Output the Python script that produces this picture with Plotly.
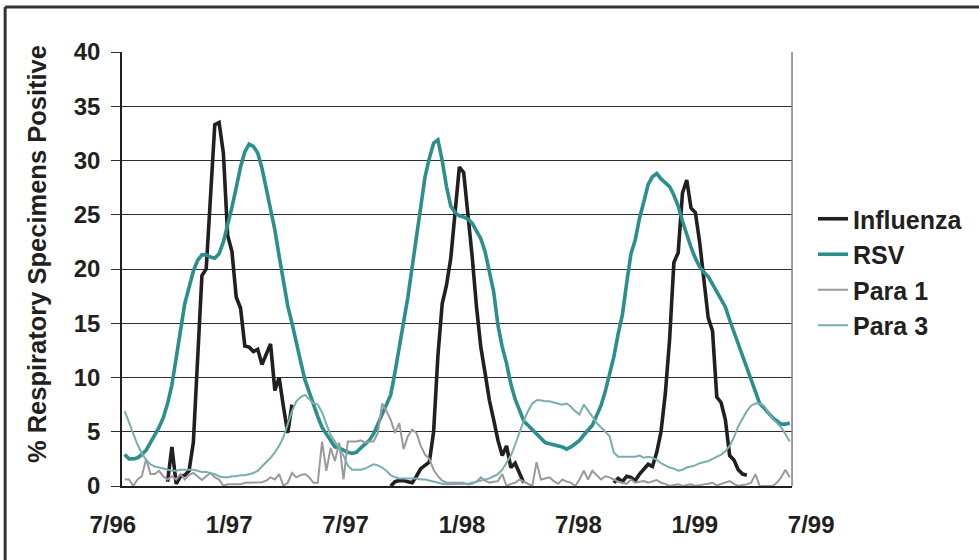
import pandas as pd
import plotly.graph_objects as go

N = 156
weeks = pd.date_range("1996-07-06", periods=N, freq="7D")

influenza = (
    [None] * 10
    + [0.4, 3.6, 0.2, 0.9, 1.0, 1.4, 4.0, 11.5, 19.4, 20.0,
       27.0, 33.3, 33.5, 30.7, 23.1, 21.6, 17.4, 16.4, 12.9, 12.8,
       12.4, 12.6, 11.2, 12.2, 13.1, 8.8, 10.0, 7.3, 4.9, 7.5]
    + [None] * 22
    + [0.0, 0.4, 0.5, 0.5, 0.4, 0.3, 0.9, 1.6, 1.9, 2.2,
       5.0, 12.0, 16.8, 18.5, 21.0, 25.0, 29.4, 28.9, 25.1, 21.1,
       16.5, 12.8, 10.4, 7.9, 6.1, 4.2, 2.8, 3.7, 1.7, 2.1,
       1.2, 0.3]
    + [None] * 20
    + [0.3, 0.7, 0.4, 0.9, 0.8, 0.5, 1.1, 1.5, 2.0, 1.8,
       3.1, 5.0, 8.5, 13.5, 20.6, 21.5, 27.0, 28.2, 25.6, 25.2,
       22.5, 19.0, 15.5, 14.3, 8.2, 7.7, 6.1, 2.8, 2.4, 1.5,
       1.1, 1.0]
    + [None] * 10
)

rsv = [
    2.9, 2.5, 2.5, 2.6, 2.9, 3.3, 4.0, 4.7, 5.4, 6.3,
    7.6, 9.3, 11.6, 14.3, 16.8, 18.3, 19.8, 20.8, 21.3, 21.3,
    21.1, 21.0, 21.4, 22.5, 24.0, 25.7, 27.5, 29.4, 30.8, 31.5,
    31.3, 30.7, 29.3, 27.5, 25.7, 23.6, 21.2, 18.8, 16.6, 15.0,
    13.4, 11.5, 9.8, 8.6, 7.4, 6.4, 5.4, 4.8, 4.2, 3.6,
    3.5, 3.3, 3.1, 3.0, 3.1, 3.5, 3.8, 4.2, 4.8, 5.7,
    6.8, 7.7, 8.4, 10.5, 13.0, 15.1, 17.4, 20.1, 23.0, 25.9,
    28.5, 30.2, 31.6, 31.9, 30.0, 27.6, 25.8, 25.2, 24.9, 24.8,
    24.6, 24.2, 23.5, 22.8, 21.6, 19.7, 17.9, 14.8, 12.8, 11.3,
    9.4, 8.0, 7.1, 6.0, 5.6, 5.2, 4.8, 4.4, 4.0, 3.9,
    3.8, 3.7, 3.6, 3.4, 3.6, 3.9, 4.2, 4.7, 5.1, 5.6,
    6.5, 7.4, 8.7, 10.2, 11.9, 14.0, 15.8, 18.7, 21.4, 22.7,
    24.7, 26.2, 27.8, 28.5, 28.8, 28.3, 28.0, 27.6, 26.8, 25.8,
    24.4, 23.1, 22.0, 21.0, 20.2, 19.7, 19.3, 18.6, 17.9, 17.1,
    16.5, 15.3, 14.2, 13.1, 12.1, 10.9, 9.8, 8.6, 7.6, 7.2,
    6.7, 6.3, 6.0, 5.7, 5.7, 5.8,
]

para1 = [
    0.6, 0.6, 0.0, 0.6, 0.9, 2.5, 1.1, 1.1, 1.4, 0.9,
    0.6, 0.9, 0.6, 1.1, 0.6, 1.0, 1.2, 0.9, 0.55, 0.9,
    1.2, 0.8, 0.6, 0.0, 0.15, 0.15, 0.15, 0.15, 0.3, 0.3,
    0.3, 0.35, 0.35, 0.5, 0.8, 0.6, 1.1, 0.0, 0.3, 1.2,
    0.8, 1.0, 1.1, 0.8, 0.3, 0.3, 4.1, 1.4, 3.5, 2.3,
    4.0, 0.6, 4.1, 4.1, 4.1, 4.2, 4.0, 4.1, 4.1, 4.9,
    7.6, 6.9, 6.1, 4.9, 5.8, 3.4, 4.6, 5.2, 4.9, 3.7,
    2.9, 2.5, 1.5, 0.9, 0.5, 0.3, 0.3, 0.3, 0.3, 0.3,
    0.15, 0.2, 0.4, 0.8, 0.5, 0.3, 0.4, 0.45, 1.1, 0.0,
    0.2, 0.3, 0.6, 0.4, 0.2, 0.0, 2.2, 0.6, 0.7, 0.8,
    0.45, 0.2, 0.6, 0.4, 0.3, 0.0, 0.6, 1.4, 0.6, 1.4,
    1.0, 0.6, 0.9, 0.8, 0.6, 0.4, 0.3, 0.2, 0.6, 0.3,
    0.4, 0.45, 0.3, 0.4, 0.55, 0.3, 0.2, 0.0, 0.1, 0.15,
    0.0, 0.1, 0.15, 0.0, 0.1, 0.15, 0.2, 0.3, 0.05, 0.2,
    0.3, 0.45, 0.2, 0.0, 0.1, 0.15, 0.3, 1.1, 0.0, 0.0,
    0.0, 0.0, 0.3, 0.8, 1.5, 0.8,
]

para3 = [
    6.9, 5.9, 4.8, 3.8, 3.0, 2.4, 2.0, 1.8, 1.7, 1.6,
    1.5, 1.4, 1.4, 1.5, 1.5, 1.5, 1.5, 1.4, 1.3, 1.3,
    1.2, 1.1, 0.9, 0.8, 0.8, 0.9, 0.9, 1.0, 1.0, 1.1,
    1.2, 1.4, 1.8, 2.2, 2.6, 3.1, 3.7, 4.5, 5.8, 6.9,
    7.8, 8.2, 8.4, 8.0, 7.6, 7.5, 6.8, 5.7, 4.7, 4.1,
    3.4, 2.8, 1.9, 1.5, 1.5, 1.5, 1.6, 1.8, 2.0, 1.9,
    1.7, 1.4, 1.0, 0.8, 0.7, 0.7, 0.7, 0.7, 0.7, 0.6,
    0.6, 0.5, 0.4, 0.25, 0.2, 0.15, 0.15, 0.15, 0.15, 0.2,
    0.2, 0.3, 0.4, 0.5, 0.6, 0.7, 0.9, 1.1, 1.5, 2.1,
    2.8, 3.8, 5.0, 6.0, 6.9, 7.6, 7.9, 7.9, 7.8, 7.8,
    7.7, 7.6, 7.5, 7.6, 7.3, 6.9, 6.6, 7.5, 7.0, 6.4,
    5.8, 5.4, 5.0, 4.6, 3.1, 2.7, 2.7, 2.7, 2.7, 2.7,
    2.8, 2.6, 2.7, 2.6, 2.4, 2.1, 1.9, 1.7, 1.6, 1.4,
    1.5, 1.7, 1.8, 1.9, 2.1, 2.2, 2.3, 2.5, 2.7, 2.9,
    3.2, 3.7, 4.5, 5.5, 6.2, 6.9, 7.4, 7.6, 7.6, 7.4,
    6.8, 6.2, 5.8, 5.4, 4.8, 4.1,
]

tick_labels = ["7/96", "1/97", "7/97", "1/98", "7/98", "1/99", "7/99"]
y_ticks = [0, 5, 10, 15, 20, 25, 30, 35, 40]
y_title = "% Respiratory Specimens Positive"

series = [
    ("Influenza", influenza, "#231f20", 3.6),
    ("RSV", rsv, "#2b8f8b", 3.6),
    ("Para 1", para1, "#9a9a9a", 2.0),
    ("Para 3", para3, "#7aadb0", 2.0),
]

W, H = 979, 560
ML, MR, MT, MB = 107, 161, 52, 74
pw = W - ML - MR
ph = H - MT - MB

FONT = "Liberation Sans, Arial, Helvetica, sans-serif"
dark = "#231f20"
FS = 24

fig = go.Figure()
for name, vals, col, lw in series:
    fig.add_trace(go.Scatter(
        x=weeks, y=vals, name=name, mode="lines",
        line=dict(color=col, width=lw), connectgaps=False,
        legendgroup=name,
    ))
# empty carrier trace so the label axis (x2/y2) is drawn
fig.add_trace(go.Scatter(x=[], y=[], xaxis="x2", yaxis="y2",
                         showlegend=False, hoverinfo="skip"))

fig.update_layout(
    width=W, height=H,
    margin=dict(l=ML, r=MR, t=MT, b=MB, pad=0),
    paper_bgcolor="white", plot_bgcolor="rgba(0,0,0,0)",
    font=dict(family=FONT, color=dark, size=FS, weight="bold"),
    showlegend=True,
    legend=dict(
        x=(813 - ML) / pw, xanchor="left",
        y=(MT + ph - 196) / ph, yanchor="top",
        font=dict(family=FONT, size=25, color=dark, weight="bold"),
        bgcolor="rgba(0,0,0,0)", tracegroupgap=0,
    ),
    xaxis=dict(
        domain=[(122 - ML) / pw, (793 - ML) / pw],
        range=["1996-07-01 14:00", "1999-06-29 18:00"],
        showticklabels=False, ticks="", showgrid=False, zeroline=False,
        showline=True, linecolor=dark, linewidth=1.5,
        anchor="y",
    ),
    yaxis=dict(
        range=[0, 40], tickvals=y_ticks, domain=[0, 1],
        showgrid=True, gridcolor="#2e2e2e", gridwidth=1,
        zeroline=False, showline=True, linecolor=dark, linewidth=1.5,
        ticks="outside", ticklen=9, tickcolor="#2e2e2e", tickwidth=1,
        ticklabelstandoff=6,
        tickfont=dict(family=FONT, size=FS, color=dark, weight="bold"),
        anchor="x",
    ),
    xaxis2=dict(
        domain=[0, 1], range=[-0.05, 6.05],
        tickvals=list(range(len(tick_labels))), ticktext=tick_labels,
        showgrid=False, zeroline=False, showline=False, ticks="",
        ticklabelstandoff=22,
        tickfont=dict(family=FONT, size=FS, color=dark, weight="bold"),
        anchor="y2",
    ),
    yaxis2=dict(domain=[0, 1], range=[0, 1], visible=False,
                showgrid=False, zeroline=False, anchor="x2"),
    annotations=[
        dict(text=y_title, textangle=-90, showarrow=False,
             xref="paper", yref="paper",
             x=(37 - ML) / pw, y=(MT + ph - 254) / ph,
             xanchor="center", yanchor="middle",
             font=dict(family=FONT, size=25.5, color=dark, weight="bold")),
    ],
    shapes=[
        dict(type="line", xref="x domain", yref="y domain",
             x0=1, x1=1, y0=0, y1=1, line=dict(color="#7f7f7f", width=1.5)),
        dict(type="line", xref="paper", yref="paper",
             x0=(5 - ML) / pw, x1=(5 - ML) / pw,
             y0=(MT + ph - 7) / ph, y1=(MT + ph - 570) / ph,
             line=dict(color="#333333", width=3)),
        dict(type="line", xref="paper", yref="paper",
             x0=(5 - ML) / pw, x1=(990 - ML) / pw,
             y0=(MT + ph - 7) / ph, y1=(MT + ph - 7) / ph,
             line=dict(color="#333333", width=3)),
    ],
)

fig.write_html("out.html",
               config={"displayModeBar": False},
               post_script="document.body.style.margin='0px';")
